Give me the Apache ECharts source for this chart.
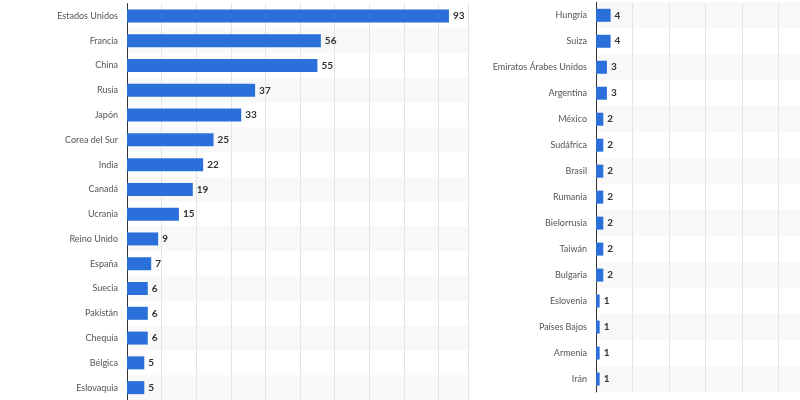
<!DOCTYPE html>
<html>
<head>
<meta charset="utf-8">
<script src="https://cdn.jsdelivr.net/npm/echarts@6/dist/echarts.min.js"></script>
<style>html,body{margin:0;padding:0;background:#fff}#c{width:800px;height:400px}</style>
</head>
<body>
<div id="c"></div>
<script>
const leftCategories = ["Estados Unidos","Francia","China","Rusia","Japón","Corea del Sur","India","Canadá","Ucrania","Reino Unido","España","Suecia","Pakistán","Chequia","Bélgica","Eslovaquia"];
const leftValues = [93,56,55,37,33,25,22,19,15,9,7,6,6,6,5,5];
const rightCategories = ["Hungría","Suiza","Emiratos Árabes Unidos","Argentina","México","Sudáfrica","Brasil","Rumanía","Bielorrusia","Taiwán","Bulgaria","Eslovenia","Países Bajos","Armenia","Irán"];
const rightValues = [4,4,3,3,2,2,2,2,2,2,2,1,1,1,1];

const FONT = 'Lato, "Open Sans", "DejaVu Sans", sans-serif';
const BAR = '#2b6fdb';
const GRID_C = '#e4e4e4';
const BAND = '#f8f8f8';

function xAxisCfg(idx, max) {
  return {
    type: 'value', gridIndex: idx, min: 0, max: max, interval: 10,
    axisLabel: {show: false}, axisTick: {show: false}, axisLine: {show: false},
    splitLine: {show: true, lineStyle: {color: GRID_C, width: 1}}
  };
}
function yAxisCfg(idx, cats, bands) {
  return {
    type: 'category', gridIndex: idx, data: cats, inverse: true,
    axisTick: {show: false},
    axisLine: {show: true, lineStyle: {color: '#333', width: 1}},
    axisLabel: {color: '#555', fontSize: 9, fontFamily: FONT, margin: 9},
    splitArea: {show: true, areaStyle: {color: bands}},
    splitLine: {show: false}
  };
}
function seriesCfg(idx, vals) {
  return {
    type: 'bar', xAxisIndex: idx, yAxisIndex: idx, data: vals,
    barWidth: 13, itemStyle: {color: BAR},
    label: {show: true, position: 'right', distance: 4, color: '#333',
      fontSize: 10, fontWeight: 'bold', fontFamily: FONT},
    silent: true
  };
}

const chart = echarts.init(document.getElementById('c'), null, {renderer: 'canvas'});
chart.setOption({
  animation: false,
  backgroundColor: '#fff',
  grid: [
    {left: 127, top: 3.6, width: 341, height: 398},
    {left: 596, top: 2.3, width: 204, height: 389.7}
  ],
  xAxis: [xAxisCfg(0, 98.5), xAxisCfg(1, 55.9)],
  yAxis: [yAxisCfg(0, leftCategories, ['#ffffff', BAND]), yAxisCfg(1, rightCategories, [BAND, '#ffffff'])],
  series: [seriesCfg(0, leftValues), seriesCfg(1, rightValues)]
});
</script>
</body>
</html>
